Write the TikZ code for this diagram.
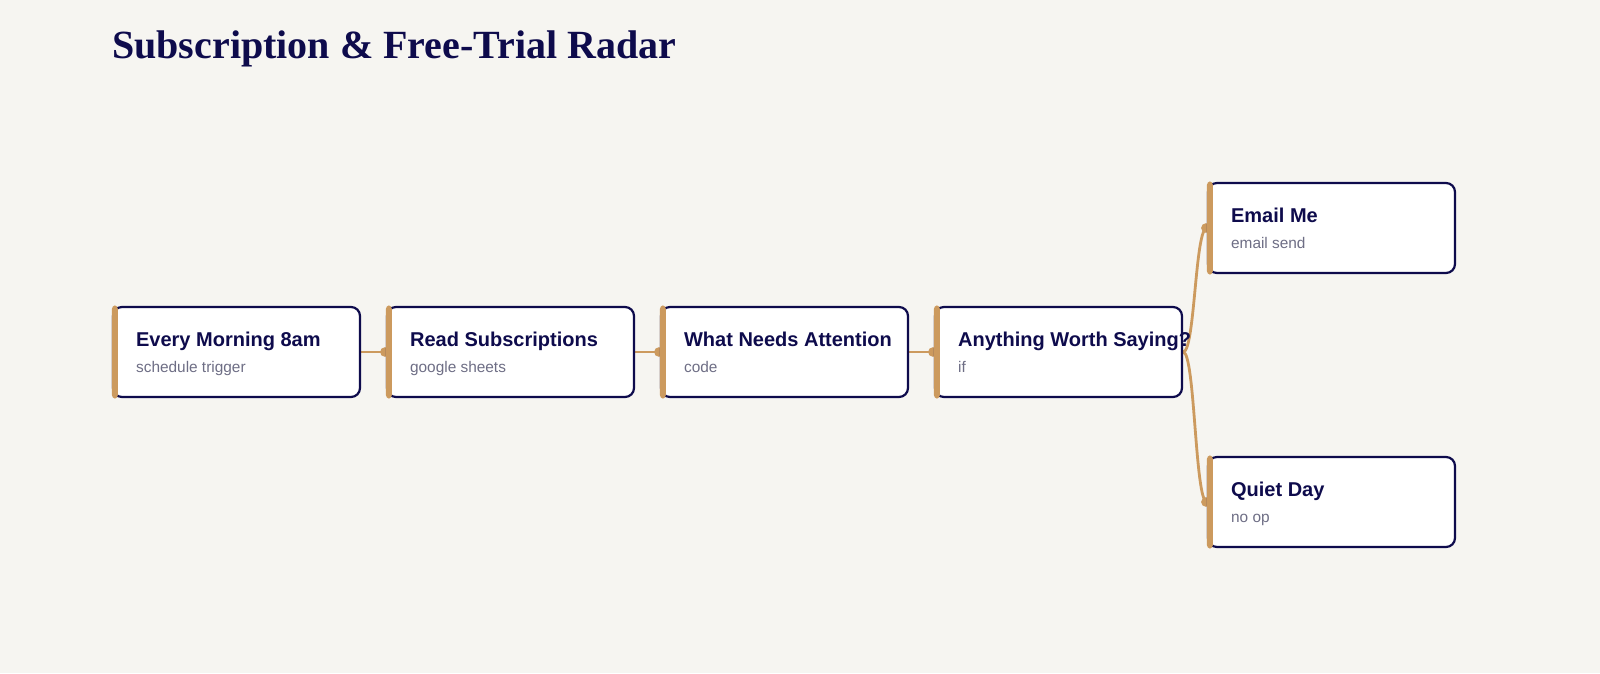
\documentclass[tikz,border=0pt]{standalone}
\usepackage{fontspec}
\setmainfont{Liberation Sans}
\newfontfamily\titlefont{Liberation Serif}
\usetikzlibrary{backgrounds}
\definecolor{bg}{HTML}{F6F5F1}
\definecolor{navy}{HTML}{0E0B4C}
\definecolor{tan}{HTML}{CC9A5E}
\definecolor{subgray}{HTML}{6E6E85}
\begin{document}
\begin{tikzpicture}[x=1pt,y=-1pt,
  card/.style={draw=navy, line width=2.2pt, fill=white, rounded corners=9pt,
    minimum width=247pt, minimum height=90pt, inner sep=0pt},
  ttl/.style={anchor=base west, font=\bfseries\fontsize{20}{23}\selectfont, text=navy, inner sep=0pt},
  subt/.style={anchor=base west, font=\fontsize{15.4}{18}\selectfont, text=subgray, inner sep=0pt},
  wire/.style={draw=tan, line width=2.8pt},
  bar/.style={fill=tan, rounded corners=3.5pt},
  dot/.style={fill=tan}]
\useasboundingbox (0,0) rectangle (1600,673);
\node[anchor=base west, font=\titlefont\bfseries\fontsize{40}{46}\selectfont, text=navy, inner sep=0pt] (title) at (112,58) {Subscription \& Free-Trial Radar};
% cards
\node[card] (n1) at (236.5,352) {};
\node[card] (n2) at (510.5,352) {};
\node[card] (n3) at (784.5,352) {};
\node[card] (n4) at (1058.5,352) {};
\node[card] (n5) at (1331.5,228) {};
\node[card] (n6) at (1331.5,502) {};
\foreach \n in {n1,n2,n3,n4,n5,n6}{
  \fill[bar] ([xshift=0pt,yshift=0.5pt]\n.north west) rectangle ([xshift=6pt,yshift=-0.5pt]\n.south west);
}
% texts
\node[ttl] (t1) at ([xshift=24pt,yshift=6pt]n1.west) {Every Morning 8am};
\node[subt] (s1) at ([xshift=24pt,yshift=-20pt]n1.west) {schedule trigger};
\node[ttl] (t2) at ([xshift=24pt,yshift=6pt]n2.west) {Read Subscriptions};
\node[subt] (s2) at ([xshift=24pt,yshift=-20pt]n2.west) {google sheets};
\node[ttl] (t3) at ([xshift=24pt,yshift=6pt]n3.west) {What Needs Attention};
\node[subt] (s3) at ([xshift=24pt,yshift=-20pt]n3.west) {code};
\node[ttl] (t4) at ([xshift=24pt,yshift=6pt]n4.west) {Anything Worth Saying?};
\node[subt] (s4) at ([xshift=24pt,yshift=-20pt]n4.west) {if};
\node[ttl] (t5) at ([xshift=24pt,yshift=6pt]n5.west) {Email Me};
\node[subt] (s5) at ([xshift=24pt,yshift=-20pt]n5.west) {email send};
\node[ttl] (t6) at ([xshift=24pt,yshift=6pt]n6.west) {Quiet Day};
\node[subt] (s6) at ([xshift=24pt,yshift=-20pt]n6.west) {no op};
% connectors
\begin{scope}[on background layer]
\fill[bg] (0,0) rectangle (1600,673);
\draw[wire] (n1.east) -- (n2.west);
\draw[wire] (n2.east) -- (n3.west);
\draw[wire] (n3.east) -- (n4.west);
\draw[wire] (n4.east) .. controls ([xshift=12pt]n4.east) and ([xshift=-12pt]n5.west) .. (n5.west);
\draw[wire] (n4.east) .. controls ([xshift=12pt]n4.east) and ([xshift=-12pt]n6.west) .. (n6.west);
\foreach \n in {n2,n3,n4,n5,n6}{
  \fill[dot] ([xshift=-1pt]\n.west) circle (4.8pt);
}
\end{scope}
\end{tikzpicture}
\end{document}
